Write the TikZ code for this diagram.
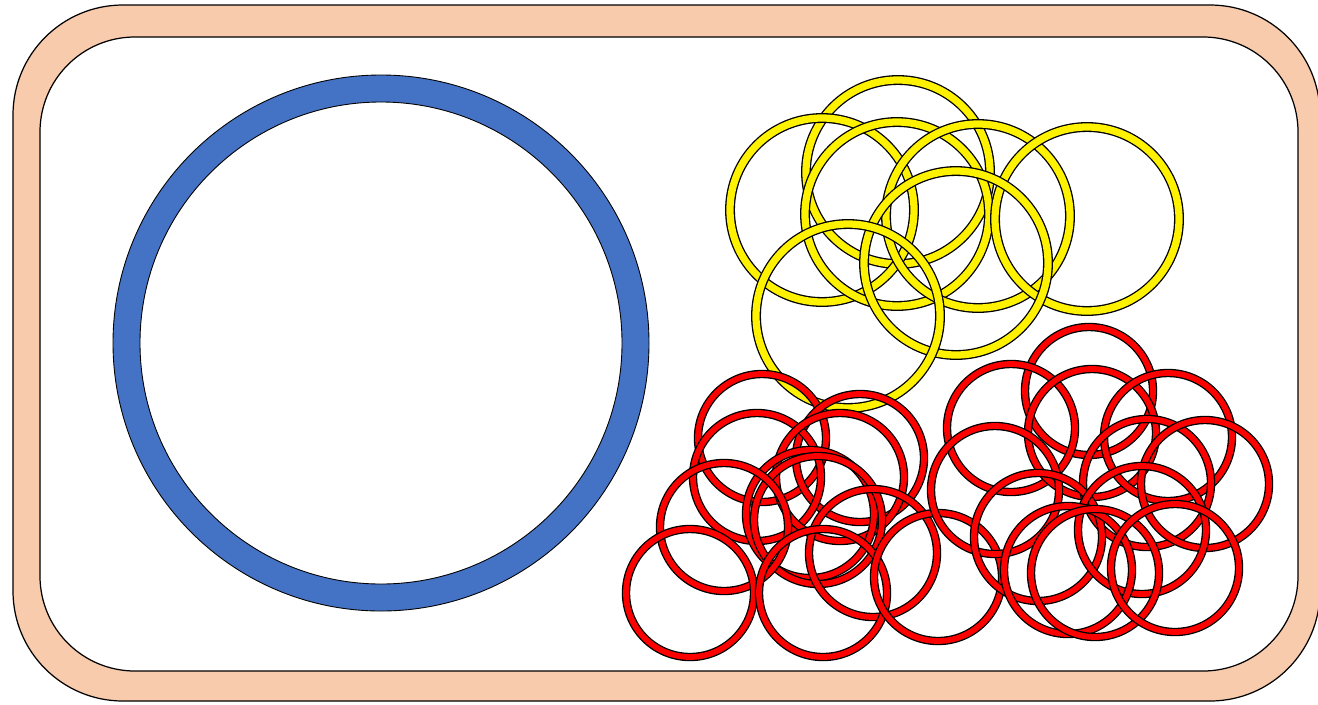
\documentclass[tikz,border=0pt]{standalone}
\usepackage{tikz}

\definecolor{peach}{HTML}{F8CBAD}
\definecolor{ringblue}{HTML}{4472C4}

\begin{document}
\begin{tikzpicture}[x=0.02cm, y=-0.02cm,
    yring/.style={draw=black, line width=0.75pt, double=yellow, double distance=0.145cm},
    rring/.style={draw=black, line width=0.75pt, double=red, double distance=0.115cm}]
  \useasboundingbox (0,0) rectangle (1318,704);

  % frame
  \filldraw[fill=peach, draw=black, line width=0.7pt, even odd rule, rounded corners=2.2cm]
    (13,5) rectangle (1320,701) [rounded corners=1.9cm] (40,37) rectangle (1298,671);

  % big blue ring
  \filldraw[fill=ringblue, draw=black, line width=0.5pt, even odd rule]
    (381,343) circle (268) (381,343) circle (241);

  % yellow rings
  \draw[yring] (898,172) circle (92);
  \draw[yring] (822,210) circle (92);
  \draw[yring] (897,214) circle (92);
  \draw[yring] (978,216) circle (92);
  \draw[yring] (1087,219) circle (92);
  \draw[yring] (956,263) circle (92);
  \draw[yring] (848,316) circle (92);

  % red rings, left group
  \draw[rring] (762,438) circle (64);
  \draw[rring] (860,458) circle (64);
  \draw[rring] (757,477) circle (64);
  \draw[rring] (840,477) circle (64);
  \draw[rring] (810,514) circle (64);
  \draw[rring] (818,520) circle (64);
  \draw[rring] (724,527) circle (64);
  \draw[rring] (873,553) circle (64);
  \draw[rring] (690,593) circle (64);
  \draw[rring] (823,593) circle (64);
  \draw[rring] (938,577) circle (64);

  % red rings, right group
  \draw[rring] (1089,391) circle (64);
  \draw[rring] (1011,428) circle (64);
  \draw[rring] (1092,433) circle (64);
  \draw[rring] (1168,437) circle (64);
  \draw[rring] (995,490) circle (64);
  \draw[rring] (1147,483) circle (64);
  \draw[rring] (1205,484) circle (64);
  \draw[rring] (1038,537) circle (64);
  \draw[rring] (1142,530) circle (64);
  \draw[rring] (1068,570) circle (64);
  \draw[rring] (1095,573) circle (64);
  \draw[rring] (1175,568) circle (64);
\end{tikzpicture}
\end{document}
